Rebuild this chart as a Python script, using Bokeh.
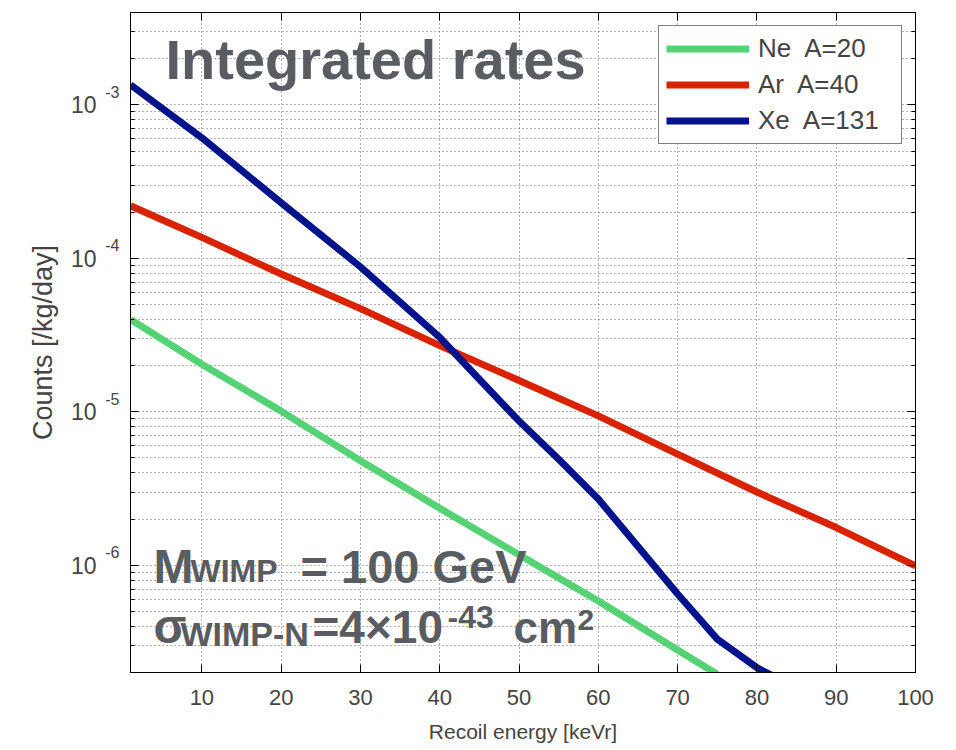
import math
from bokeh.plotting import figure
from bokeh.models import (FixedTicker, LinearAxis, LogAxis, Label,
                          CustomJSTickFormatter, Legend, LegendItem, Range1d)
from bokeh.embed import file_html
from bokeh.resources import INLINE

# ---------------- data ----------------
energy_ne = [1, 10, 20, 30, 40, 50, 60, 70, 75]
rate_ne = [4.0e-5, 2.04e-5, 1.01e-5, 4.8e-6, 2.35e-6, 1.17e-6, 5.85e-7, 2.8e-7, 1.95e-7]

energy_ar = [1, 10, 20, 30, 40, 50, 60, 70, 80, 90, 100]
rate_ar = [2.2e-4, 1.37e-4, 7.9e-5, 4.7e-5, 2.7e-5, 1.6e-5, 9.4e-6, 5.3e-6, 3.0e-6, 1.76e-6, 9.9e-7]

energy_xe = [1, 10, 20, 30, 40, 50, 55, 60, 70, 75, 80, 82]
rate_xe = [1.35e-3, 6.1e-4, 2.3e-4, 8.8e-5, 3.05e-5, 8.7e-6, 4.9e-6, 2.7e-6, 6.5e-7, 3.3e-7,
           2.15e-7, 1.9e-7]

series_labels = ["Ne  A=20", "Ar  A=40", "Xe  A=131"]
series_colors = ["#55d274", "#d82200", "#03138c"]

x_ticks = [10, 20, 30, 40, 50, 60, 70, 80, 90, 100]
y_ticks = [1e-6, 1e-5, 1e-4, 1e-3]
y_exponents = ["-6", "-5", "-4", "-3"]

X0, X1 = 1, 100
Y0, Y1 = 2e-7, 4e-3

# reference frame, in page pixels (for placing annotation texts)
FL, FR, FT, FB = 130, 915, 12, 672
BASE_FIX = 0.34  # Label "alphabetic" sits lower by about this fraction of the font size
EXP_RAISE_PX = 13  # exponent labels sit this many pixels above their tick


def ref_x(px):
    return X0 + (px - FL) / (FR - FL) * (X1 - X0)


def ref_y(py):
    ly0, ly1 = math.log10(Y0), math.log10(Y1)
    return 10 ** (ly1 - (py - FT) / (FB - FT) * (ly1 - ly0))


FONT = "Liberation Sans"
GRAY = "#595c61"
W, H = 956, 750

p = figure(width=W, height=H, output_backend="svg", toolbar_location=None,
           y_axis_type="log", x_range=Range1d(X0, X1), y_range=Range1d(Y0, Y1),
           min_border_left=FL, min_border_right=W - FR, min_border_top=FT,
           min_border_bottom=H - FB)
p.background_fill_color = "white"
p.border_fill_color = "white"
p.outline_line_color = "black"
p.outline_line_width = 1

# shifted range used only to raise the exponent labels above their ticks
decades_per_px = (math.log10(Y1) - math.log10(Y0)) / (FB - FT)
shift = 10 ** (EXP_RAISE_PX * decades_per_px)
p.extra_y_ranges = {"exp": Range1d(Y0 / shift, Y1 / shift)}

# ---- tickers
xt = FixedTicker(ticks=x_ticks, minor_ticks=[])
y_minor = []
for e in range(-7, -2):
    for k in range(2, 10):
        v = k * 10.0 ** e
        if Y0 <= v <= Y1:
            y_minor.append(v)
yt = FixedTicker(ticks=y_ticks, minor_ticks=y_minor)

# ---- bottom axis
xa = p.xaxis[0]
xa.ticker = xt
xa.axis_label = "Recoil energy [keVr]"
xa.axis_label_text_font = FONT
xa.axis_label_text_font_size = "21px"
xa.axis_label_text_font_style = "normal"
xa.axis_label_standoff = 12
xa.major_label_text_font = FONT
xa.major_label_text_font_size = "22px"
xa.major_label_standoff = 17
xa.major_tick_in = 8
xa.major_tick_out = 0
xa.minor_tick_in = 0
xa.minor_tick_out = 0
xa.axis_line_color = "black"

# ---- left axis (ticks only, innermost)
ya = p.yaxis[0]
ya.ticker = yt
ya.formatter = CustomJSTickFormatter(code="return '';")
ya.major_label_standoff = 0
ya.major_tick_in = 8
ya.major_tick_out = 0
ya.minor_tick_in = 4
ya.minor_tick_out = 0
ya.axis_line_color = "black"

# exponent labels ("-3", ...), raised above the ticks
exp_axis = LogAxis(y_range_name="exp", ticker=FixedTicker(ticks=y_ticks, minor_ticks=[]),
                   formatter=CustomJSTickFormatter(
                       args=dict(tick_values=y_ticks, exp_labels=y_exponents),
                       code="""
                       for (let i = 0; i < tick_values.length; i++) {
                           if (Math.abs(Math.log10(tick_values[i]) - Math.log10(tick)) < 1e-6) {
                               return exp_labels[i];
                           }
                       }
                       return '';"""),
                   major_label_standoff=5, major_label_text_font=FONT,
                   major_label_text_font_size="16px",
                   axis_line_color=None, major_tick_line_color=None, minor_tick_line_color=None)
p.add_layout(exp_axis, "left")

# base "10" labels and axis title
base_axis = LogAxis(ticker=FixedTicker(ticks=y_ticks, minor_ticks=[]),
                    formatter=CustomJSTickFormatter(code="return '10';"),
                    major_label_standoff=0, major_label_text_font=FONT,
                    major_label_text_font_size="23px",
                    axis_line_color=None, major_tick_line_color=None, minor_tick_line_color=None,
                    axis_label="Counts [/kg/day]", axis_label_text_font=FONT,
                    axis_label_text_font_size="27px", axis_label_text_font_style="normal",
                    axis_label_standoff=10)
p.add_layout(base_axis, "left")

# ---- top and right axes (box ticks, no labels)
top = LinearAxis(ticker=xt, formatter=CustomJSTickFormatter(code="return '';"),
                 major_label_standoff=0,
                 major_tick_in=8, major_tick_out=0, minor_tick_in=0, minor_tick_out=0,
                 axis_line_color="black")
p.add_layout(top, "above")
right = LogAxis(ticker=yt, formatter=CustomJSTickFormatter(code="return '';"),
                major_label_standoff=0,
                major_tick_in=8, major_tick_out=0, minor_tick_in=4, minor_tick_out=0,
                axis_line_color="black")
p.add_layout(right, "right")

# ---- grids
for g in (p.xgrid[0], p.ygrid[0]):
    g.grid_line_color = "#222222"
    g.grid_line_alpha = 0.7
    g.grid_line_dash = "1 3"
    g.grid_line_width = 1
p.xgrid[0].ticker = xt
p.ygrid[0].ticker = yt
p.ygrid[0].minor_grid_line_color = "#222222"
p.ygrid[0].minor_grid_line_alpha = 0.7
p.ygrid[0].minor_grid_line_dash = "1 3"
p.ygrid[0].minor_grid_line_width = 1

# ---- curves
r_ne = p.line(energy_ne, rate_ne, line_color=series_colors[0], line_width=7, line_join="round")
r_ar = p.line(energy_ar, rate_ar, line_color=series_colors[1], line_width=7, line_join="round")
r_xe = p.line(energy_xe, rate_xe, line_color=series_colors[2], line_width=7, line_join="round")

legend = Legend(items=[LegendItem(label=series_labels[0], renderers=[r_ne]),
                       LegendItem(label=series_labels[1], renderers=[r_ar]),
                       LegendItem(label=series_labels[2], renderers=[r_xe])],
                location="top_right", margin=13, padding=7, spacing=5,
                glyph_width=83, glyph_height=25, label_height=25, label_width=136,
                label_standoff=9, label_text_font=FONT, label_text_font_size="26px",
                border_line_color="black", border_line_width=1.3,
                background_fill_color="white", background_fill_alpha=1.0)
p.add_layout(legend, "center")

# ---- annotation texts (text, left px, baseline px, size)
annotations = [
    ("Integrated rates", 165, 78, 56),
    ("M", 153, 582, 48),
    ("WIMP", 190, 581, 32),
    ("= 100 GeV", 300, 582, 47),
    ("σ", 153, 642, 48),
    ("WIMP-N", 180, 645, 34),
    ("=4×10", 312, 642, 46),
    ("-43", 447, 627, 32),
    ("cm", 513, 642, 44),
    ("2", 577, 630, 30),
]
for txt, px, py, sz in annotations:
    p.add_layout(Label(x=ref_x(px), y=ref_y(py - BASE_FIX * sz), text=txt, text_align="left",
                       text_baseline="alphabetic", text_font=FONT, text_font_style="bold",
                       text_font_size=f"{sz}px", text_color=GRAY))

open("out.html", "w").write(file_html(p, INLINE))
